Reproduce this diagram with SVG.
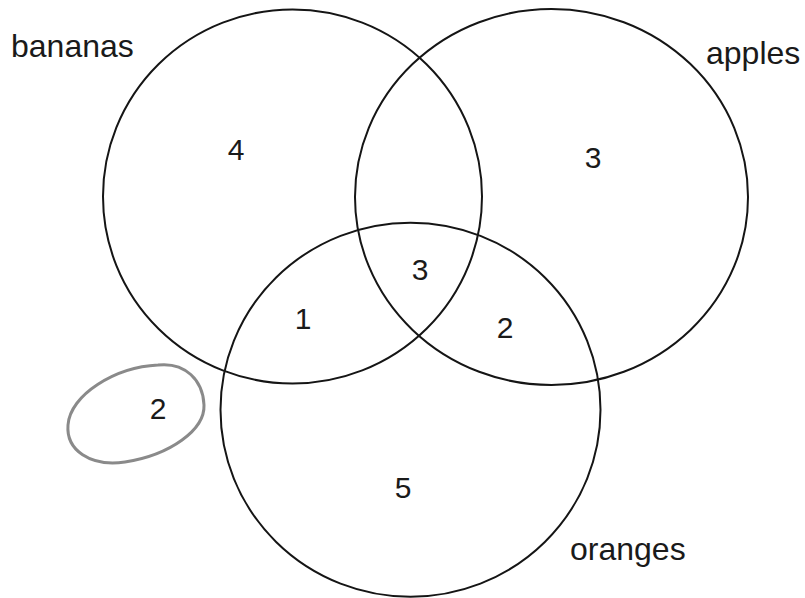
<svg xmlns="http://www.w3.org/2000/svg" width="805" height="598" viewBox="0 0 805 598">
<style>
.c{fill:none;stroke:#151515;stroke-width:2}
.t{font-family:"Liberation Sans",Arial,sans-serif;font-size:32px;fill:#1a1a1a}
.n{font-family:"Liberation Sans",Arial,sans-serif;font-size:30px;fill:#1a1a1a;text-anchor:middle}
</style>
<rect width="805" height="598" fill="#fff"/>
<g id="bananas"><ellipse class="c" cx="292.5" cy="196.5" rx="189.5" ry="187"/><text class="t" x="11" y="57">bananas</text></g>
<g id="apples"><ellipse class="c" cx="551.5" cy="197" rx="196.5" ry="188"/><text class="t" x="706" y="64">apples</text></g>
<g id="oranges"><ellipse class="c" cx="410.5" cy="409.7" rx="190" ry="187"/><text class="t" x="570" y="560">oranges</text></g>
<g id="counts">
<text class="n" x="236" y="160">4</text>
<text class="n" x="593" y="168">3</text>
<text class="n" x="420" y="280">3</text>
<text class="n" x="303" y="329">1</text>
<text class="n" x="505" y="338">2</text>
<text class="n" x="403" y="498">5</text>
</g>
<g id="outside">
<path d="M158 365 C185 362,203 380,204 405 C205 430,170 455,125 462 C90 467,66 450,68 425 C70 395,115 367,158 365 Z" fill="none" stroke="#8a8a8a" stroke-width="3"/>
<text class="n" x="158" y="419">2</text>
</g>
</svg>
